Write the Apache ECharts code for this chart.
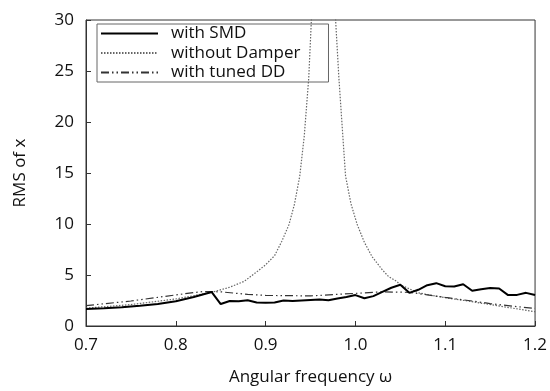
<!DOCTYPE html>
<html>
<head>
<meta charset="utf-8">
<script src="https://cdn.jsdelivr.net/npm/echarts@6/dist/echarts.min.js"></script>
<style>html,body{margin:0;padding:0;background:#fff}#c{width:550px;height:391px}</style>
</head>
<body>
<div id="c"></div>
<script>
var xTicks = [0.7, 0.8, 0.9, 1.0, 1.1, 1.2];
var yTicks = [0, 5, 10, 15, 20, 25, 30];

var smdOmega = [0.70,0.72,0.74,0.76,0.78,0.80,0.82,0.84,0.85,0.86,0.87,0.88,0.89,0.90,0.91,0.92,0.93,0.94,0.95,0.96,0.97,0.98,0.99,1.00,1.01,1.02,1.03,1.04,1.05,1.06,1.07,1.08,1.09,1.10,1.11,1.12,1.13,1.14,1.15,1.16,1.17,1.18,1.19,1.20];
var smdRms   = [1.66,1.75,1.85,1.98,2.15,2.42,2.85,3.33,2.15,2.45,2.42,2.52,2.30,2.28,2.30,2.50,2.45,2.50,2.55,2.60,2.52,2.70,2.85,3.03,2.72,2.93,3.35,3.75,4.04,3.25,3.55,4.00,4.20,3.90,3.88,4.10,3.45,3.60,3.72,3.68,3.03,3.05,3.25,3.03];

var noDampOmega = [0.70,0.75,0.80,0.84,0.86,0.876,0.89,0.90,0.91,0.918,0.926,0.932,0.938,0.943,0.948,0.952,0.957,0.964,0.971,0.976,0.9816,0.989,0.995,1.002,1.010,1.0185,1.03,1.037,1.046,1.05,1.07,1.10,1.125,1.148,1.175,1.20];
var noDampRms   = [1.75,2.10,2.65,3.30,3.80,4.37,5.30,6.00,6.90,8.30,9.94,11.9,14.7,18.6,24.3,32.0,45.0,60.0,45.0,33.0,24.3,14.7,12.0,9.94,8.20,6.80,5.50,4.84,4.37,4.04,3.25,2.77,2.45,2.13,1.75,1.40];

var ddOmega = [0.70,0.75,0.80,0.83,0.85,0.88,0.90,0.95,1.00,1.03,1.06,1.08,1.10,1.13,1.15,1.18,1.20];
var ddRms   = [2.00,2.45,3.05,3.38,3.35,3.10,3.00,2.95,3.20,3.35,3.30,3.05,2.80,2.45,2.20,1.90,1.72];

var seriesNames = ['with SMD', 'without Damper', 'with tuned DD'];

function pairs(xs, ys) { return xs.map(function (x, i) { return [x, ys[i]]; }); }

var FONT = 'Open Sans';
var FS = 17;
var chart = echarts.init(document.getElementById('c'), null, {renderer: 'canvas'});
chart.setOption({
  animation: false,
  backgroundColor: '#fff',
  grid: {left: 86, right: 13, top: 20, bottom: 57, show: true, borderColor: '#333', borderWidth: 1},
  legend: {
    orient: 'vertical',
    left: 97, top: 24,
    data: seriesNames,
    itemWidth: 57, itemHeight: 14, itemGap: 2.5,
    padding: [1, 28, 1, 3],
    borderColor: '#666', borderWidth: 1,
    itemStyle: {opacity: 0},
    textStyle: {fontFamily: FONT, fontSize: FS, color: '#111', padding: [0, 0, 0, 8], lineHeight: 17}
  },
  xAxis: {
    type: 'value', min: 0.7, max: 1.2, interval: 0.1,
    name: 'Angular frequency ω', nameLocation: 'middle', nameGap: 43,
    nameTextStyle: {fontFamily: FONT, fontSize: FS, color: '#111'},
    axisLine: {lineStyle: {color: '#333'}},
    axisTick: {inside: true, length: 5, lineStyle: {color: '#333'}},
    axisLabel: {fontFamily: FONT, fontSize: FS, color: '#111', margin: 11,
      formatter: function (v) { var t = xTicks.find(function (k) { return Math.abs(k - v) < 1e-6; }); return t === undefined ? '' : t.toFixed(1); }},
    splitLine: {show: false}
  },
  yAxis: {
    type: 'value', min: 0, max: 30, interval: 5,
    name: 'RMS of x', nameLocation: 'middle', nameGap: 57,
    nameTextStyle: {fontFamily: FONT, fontSize: FS, color: '#111'},
    axisLine: {show: true, lineStyle: {color: '#333'}},
    axisTick: {show: true, inside: true, length: 5, lineStyle: {color: '#333'}},
    axisLabel: {fontFamily: FONT, fontSize: FS, color: '#111', margin: 12,
      formatter: function (v) { return yTicks.indexOf(v) >= 0 ? String(v) : ''; }},
    splitLine: {show: false}
  },
  series: [
    {name: seriesNames[0], type: 'line', symbol: 'none', data: pairs(smdOmega, smdRms),
     lineStyle: {color: '#000', width: 2, type: 'solid'}, itemStyle: {color: '#000'}, z: 3},
    {name: seriesNames[1], type: 'line', symbol: 'none', clip: true, data: pairs(noDampOmega, noDampRms),
     lineStyle: {color: '#666', width: 1.2, type: [1.5, 1.5]}, itemStyle: {color: '#666'}, z: 2},
    {name: seriesNames[2], type: 'line', symbol: 'none', data: pairs(ddOmega, ddRms),
     lineStyle: {color: '#333', width: 1.2, type: [8, 3, 1.5, 3, 1.5, 3]}, itemStyle: {color: '#333'}, z: 2}
  ]
});
</script>
</body>
</html>
